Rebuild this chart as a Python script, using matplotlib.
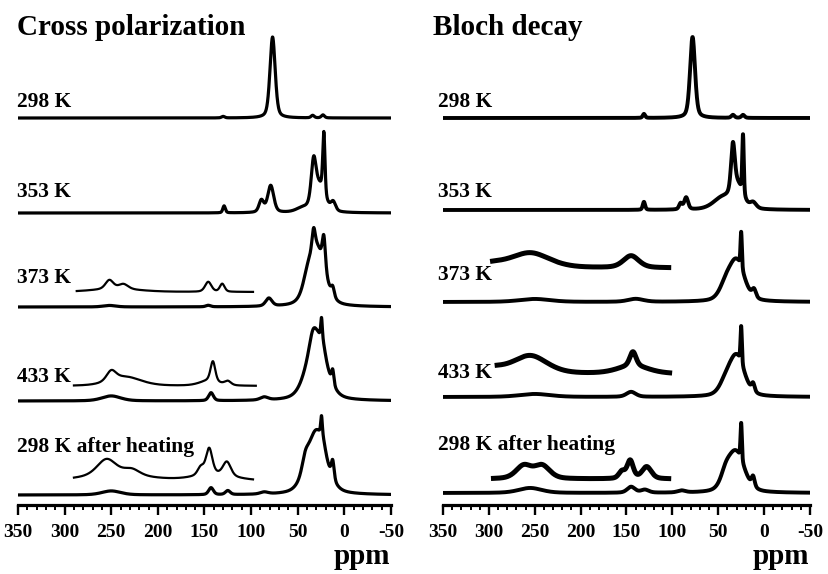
import numpy as np
import matplotlib.pyplot as plt

plt.rcParams['font.family'] = ['Liberation Serif', 'DejaVu Serif']
plt.rcParams['font.weight'] = 'bold'

W, H = 829, 574

# peaks: (shift ppm, height, half width ppm)
cp_298 = [(77, 81, 3.3), (130, 1.5, 2), (34, 2.5, 2), (23, 3, 2)]
cp_353 = [(22, 62, 1.4), (33, 40, 3.0), (27, 26, 7), (12, 9, 3), (79, 27, 3.8), (89, 12, 3), (129, 7, 1.6), (45, 4, 8)]
cp_373 = [(30, 60, 10.5), (40, 9, 5), (33, 20, 2.0), (22, 32, 2.0), (12.5, 9, 2), (81, 8, 4), (252, 1.5, 8), (146, 1.5, 3)]
cp_433 = [(30, 66, 12), (34, 10, 4), (23, 8, 3), (24.5, 20, 1), (12.5, 14, 1.5), (250, 5, 12), (143, 8, 3), (86, 3, 5)]
cp_heat = [(30, 64, 12), (42, 12, 4), (23, 8, 3), (24.5, 18, 1), (12.5, 18, 1.8), (250, 4, 12), (143, 7, 3), (125, 4, 3), (86, 2, 5)]

# expanded parts of the cross polarization traces
cp_373_x = [(252, 9, 5), (237, 5, 6), (245, 3, 30), (146, 10, 4), (131, 8, 3)]
cp_433_x = [(250, 10, 6), (235, 9, 20), (141, 20, 3), (145, 5, 12), (125, 4, 4)]
cp_heat_x = [(255, 16, 12), (228, 6, 10), (245, 6, 40), (154, 8, 4), (145, 26, 4), (126, 14, 5), (140, 6, 25)]

bd_298 = [(78, 81, 3.2), (131, 4, 1.5), (34, 3, 2), (23, 3, 2)]
bd_353 = [(23, 60, 1.0), (34, 46, 2.4), (29, 22, 7), (45, 12, 12), (12, 6, 4), (85, 12, 2.5), (91, 6, 2), (131, 8, 1.5)]
bd_373 = [(30, 40, 10), (42, 12, 8), (25, 36, 0.9), (11, 8, 2.5), (250, 3, 20), (140, 3, 10)]
bd_433 = [(30, 40, 10), (42, 10, 8), (25, 37, 0.9), (12, 8, 2), (250, 3, 20), (145, 5, 6)]
bd_heat = [(31, 41, 11), (42, 10, 6), (25, 37, 0.9), (12, 10, 2), (255, 5, 15), (145, 6, 5), (130, 3, 5), (90, 2, 5)]

# expanded parts of the Bloch decay traces
bd_373_x = [(255, 15, 25), (145, 12, 10), (300, 4, 20)]
bd_433_x = [(255, 18, 22), (143, 14, 4), (143, 8, 20), (300, 6, 20)]
bd_heat_x = [(262, 13, 10), (242, 13, 10), (146, 18, 4), (128, 12, 6), (155, 7, 4)]

labels = ["298 K", "353 K", "373 K", "433 K", "298 K after heating"]
tick_vals = [350, 300, 250, 200, 150, 100, 50, 0, -50]
tick_text = ["350", "300", "250", "200", "150", "100", "50", "0", "-50"]

ETA = 0.4


def shape(peaks, lo=350, hi=-50):
    x = np.linspace(lo, hi, 3000)
    y = np.zeros_like(x)
    for c, h, w in peaks:
        r = ((x - c) / w) ** 2
        y += h * (ETA / (1 + r) + (1 - ETA) * np.exp(-np.log(2) * r))
    return x, y


fig = plt.figure(figsize=(W / 100, H / 100), dpi=100)


def panel(x0, x1, title, tx, main, insets, base, inset_base, inset_rng, lab_y, lab_x, lw_main, lw_ins):
    ax = fig.add_axes([x0 / W, (H - 505) / H, (x1 - x0) / W, 505 / H])
    ax.set_xlim(350, -50)
    ax.set_ylim(0, 505)
    for s in ['top', 'left', 'right']:
        ax.spines[s].set_visible(False)
    ax.spines['bottom'].set_linewidth(2.3)
    ax.set_yticks([])
    ax.set_xticks(tick_vals, tick_text)
    ax.set_xticks(np.arange(-50, 351, 10), minor=True)
    ax.tick_params(axis='x', which='major', length=7.5, width=1.7, pad=6, labelsize=14)
    ax.tick_params(axis='x', which='minor', length=3.8, width=1.4)
    for pk, b in zip(main, base):
        x, y = shape(pk)
        ax.plot(x, y + b, color='black', lw=lw_main, solid_joinstyle='round')
    for pk, b, (lo, hi) in zip(insets, inset_base, inset_rng):
        x, y = shape(pk, lo, hi)
        ax.plot(x, y + b, color='black', lw=lw_ins, solid_joinstyle='round')
    fig.text(tx / W, 1 - 35 / H, title, fontsize=21, fontweight='bold', va='baseline')
    for lab, ly in zip(labels, lab_y):
        fig.text(lab_x / W, 1 - ly / H, lab, fontsize=15.5, fontweight='bold', va='baseline')
    fig.text((x1 - 1) / W, 1 - 564 / H, "ppm", fontsize=21, fontweight='bold', ha='right', va='baseline')
    return ax


panel(18, 391, "Cross polarization", 17,
      [cp_298, cp_353, cp_373, cp_433, cp_heat], [cp_373_x, cp_433_x, cp_heat_x],
      [387, 292, 198, 104, 10], [213, 119, 24],
      [(287, 98), (290, 95), (290, 98)],
      [107, 197, 283, 382, 452], 17, 2.3, 1.6)

panel(443, 810, "Bloch decay", 433,
      [bd_298, bd_353, bd_373, bd_433, bd_heat], [bd_373_x, bd_433_x, bd_heat_x],
      [387, 295, 203, 108, 12], [237, 131, 26],
      [(296, 104), (291, 103), (295, 104)],
      [107, 197, 280, 378, 450], 438, 2.8, 3.6)

fig.savefig("out.png", dpi=100)
